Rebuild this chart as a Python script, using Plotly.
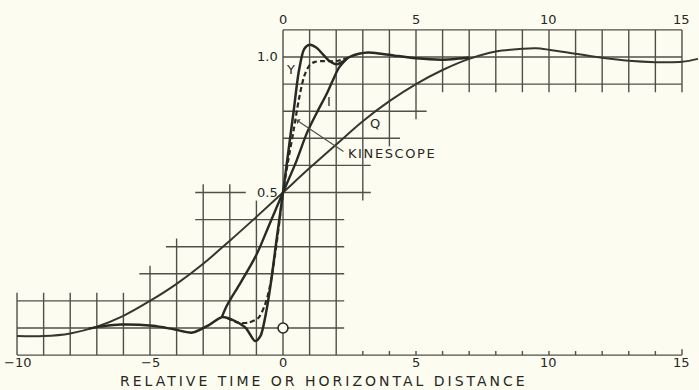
import plotly.graph_objects as go

# ---------------- data ----------------
Q_X = [-10, -9, -8, -7, -6, -5, -4, -3, -2, -1, 0, 1, 2, 3, 4, 5, 6, 7, 8, 9, 9.5, 10, 11, 12, 13, 14, 15, 15.6]
Q_Y = [-0.03, -0.03, -0.02, 0.005, 0.045, 0.1, 0.163, 0.237, 0.322, 0.41, 0.5, 0.59, 0.677, 0.763, 0.837, 0.9,
       0.952, 0.993, 1.02, 1.03, 1.032, 1.027, 1.012, 0.997, 0.986, 0.981, 0.982, 0.993]

Y_X = [-7.3, -6.8, -6.1, -4.9, -4.1, -3.4, -2.8, -2.3, -1.9, -1.4, -1.05, -0.85, -0.65, -0.45, -0.25, 0,
       0.2, 0.4, 0.6, 0.8, 1.0, 1.25, 1.5, 1.75, 2.0, 2.25, 2.5, 2.85, 3.2, 3.7, 4.2, 5.0, 6.0, 6.6, 7.0]
Y_Y = [-0.002, 0.006, 0.013, 0.008, -0.005, -0.017, 0.01, 0.04, 0.03, 0.0, -0.048, -0.03, 0.05, 0.17, 0.32, 0.5,
       0.65, 0.8, 0.95, 1.03, 1.045, 1.035, 1.01, 0.985, 0.973, 0.983, 1.0, 1.012, 1.017, 1.012, 1.005, 0.995,
       0.99, 0.994, 0.998]

I_X = [-2.3, -2.15, -1.95, -1.7, -1.0, -0.5, 0, 0.5, 0.9, 1.3, 1.65, 1.9, 2.1, 2.4]
I_Y = [0.04, 0.075, 0.11, 0.15, 0.27, 0.385, 0.5, 0.615, 0.72, 0.8, 0.865, 0.92, 0.96, 0.995]

K_X = [-2.1, -1.7, -1.3, -0.93, -0.68, -0.5, -0.3, -0.15, 0, 0.2, 0.4, 0.6, 0.8, 1.0, 1.2, 1.5, 2.0, 2.5]
K_Y = [0.037, 0.02, 0.02, 0.037, 0.085, 0.15, 0.27, 0.38, 0.5, 0.62, 0.73, 0.845, 0.93, 0.97, 0.982, 0.985,
       0.985, 1.0]

ORIGIN_X = [0]
ORIGIN_Y = [0]

BOTTOM_TICKS = [-10, -5, 0, 5, 10, 15]
BOTTOM_LABELS = ["\u221210", "\u22125", "0", "5", "10", "15"]
TOP_TICKS = [0, 5, 10, 15]
TOP_LABELS = ["0", "5", "10", "15"]
LEVEL_TICKS = [1.0, 0.5]
LEVEL_LABELS = ["1.0", "0.5"]
CURVE_NAMES = ["Y", "I", "Q", "KINESCOPE"]
X_TITLE = "RELATIVE TIME OR HORIZONTAL DISTANCE"

# ---------------- styling / layout ----------------
BG = "#fcfcf1"
INK = "#2a2a24"
GRID = "#50504a"
TXT = "#28281f"
FONT = "DejaVu Sans"

fig = go.Figure()

# grid (staircase), in data units
h_segments = [
    (-0.1, -10, 15), (0.0, -10, 2.3), (0.1, -10, 2.3), (0.2, -5.4, 2.3), (0.3, -4.4, 2.3),
    (0.4, -3.3, 2.3), (0.5, -3.3, -1.4), (0.5, 0, 3.3), (0.6, 0, 3.3), (0.7, 0, 4.4),
    (0.8, 0, 5.4), (0.9, 0, 15), (1.0, 0, 15), (1.1, 0, 15),
]
v_segments = [(x, -0.1, 0.13) for x in range(-10, -5)]
v_segments += [(-5, -0.1, 0.23), (-4, -0.1, 0.33), (-3, -0.1, 0.53), (-2, -0.1, 0.53), (-1, -0.1, 0.47),
               (0, -0.1, 1.1), (1, -0.1, 1.1), (2, -0.1, 1.1), (3, 0.47, 1.1), (4, 0.67, 1.1), (5, 0.77, 1.1)]
v_segments += [(x, 0.87, 1.1) for x in range(6, 16)]
v_segments += [(x, -0.1, -0.085) for x in range(3, 15)]
v_segments += [(15, -0.1, -0.078)]

shapes = []
for y, x0, x1 in h_segments:
    shapes.append(dict(type="line", xref="x", yref="y", x0=x0, x1=x1, y0=y, y1=y,
                       line=dict(color=GRID, width=1.4), layer="below"))
for x, y0, y1 in v_segments:
    shapes.append(dict(type="line", xref="x", yref="y", x0=x, x1=x, y0=y0, y1=y1,
                       line=dict(color=GRID, width=1.4), layer="below"))

# curves
fig.add_trace(go.Scatter(x=Q_X, y=Q_Y, mode="lines", line=dict(color="#36362f", width=2.0, shape="spline", smoothing=1.0),
                         name="Q", showlegend=False, hoverinfo="skip"))
fig.add_trace(go.Scatter(x=I_X, y=I_Y, mode="lines", line=dict(color=INK, width=2.4, shape="spline", smoothing=0.8),
                         name="I", showlegend=False, hoverinfo="skip"))
fig.add_trace(go.Scatter(x=K_X, y=K_Y, mode="lines", line=dict(color=INK, width=2.2, dash="5px,3px", shape="spline", smoothing=0.8),
                         name="KINESCOPE", showlegend=False, hoverinfo="skip"))
fig.add_trace(go.Scatter(x=Y_X, y=Y_Y, mode="lines", line=dict(color=INK, width=2.5, shape="spline", smoothing=0.8),
                         name="Y", showlegend=False, hoverinfo="skip"))
fig.add_trace(go.Scatter(x=ORIGIN_X, y=ORIGIN_Y, mode="markers",
                         marker=dict(size=10, color=BG, line=dict(color=INK, width=1.6)),
                         showlegend=False, hoverinfo="skip"))

ann = []
tf = dict(family=FONT, size=13, color=TXT)
for v, t in zip(BOTTOM_TICKS, BOTTOM_LABELS):
    ann.append(dict(x=v, y=-0.128, xref="x", yref="y", text=t, showarrow=False, font=tf))
for v, t in zip(TOP_TICKS, TOP_LABELS):
    ann.append(dict(x=v, y=1.14, xref="x", yref="y", text=t, showarrow=False, font=tf))
for v, t in zip(LEVEL_TICKS, LEVEL_LABELS):
    ann.append(dict(x=-0.12, y=v, xref="x", yref="y", text=t, showarrow=False, xanchor="right", font=tf))

label_pos = {"Y": (0.3, 0.955), "I": (1.72, 0.835), "Q": (3.45, 0.755), "KINESCOPE": (2.35, 0.645)}
for nm in CURVE_NAMES:
    lx, ly = label_pos[nm]
    if nm == "KINESCOPE":
        ann.append(dict(x=lx, y=ly, xref="x", yref="y", xanchor="left",
                        text='<span style="letter-spacing:1.6px">' + nm + '</span>',
                        showarrow=False, font=tf))
    else:
        ann.append(dict(x=lx, y=ly, xref="x", yref="y", text=nm, showarrow=False, font=tf))

# kinescope leader
ann.append(dict(x=0.5, y=0.768, ax=2.33, ay=0.648, xref="x", yref="y", axref="x", ayref="y",
                text="", showarrow=True, arrowhead=1, arrowsize=0.9, arrowwidth=1.2, arrowcolor=GRID))

ann.append(dict(x=1.54, y=-0.196, xref="x", yref="y",
                text='<span style="letter-spacing:3px">' + X_TITLE + '</span>',
                showarrow=False, font=dict(family=FONT, size=14, color=TXT)))

fig.update_layout(
    width=699, height=390,
    margin=dict(l=0, r=0, t=0, b=0),
    paper_bgcolor=BG, plot_bgcolor=BG,
    xaxis=dict(range=[-10.64, 15.64], visible=False, fixedrange=True),
    yaxis=dict(range=[-0.2288, 1.2103], visible=False, fixedrange=True),
    shapes=shapes, annotations=ann, showlegend=False,
)

fig.write_html("out.html")
